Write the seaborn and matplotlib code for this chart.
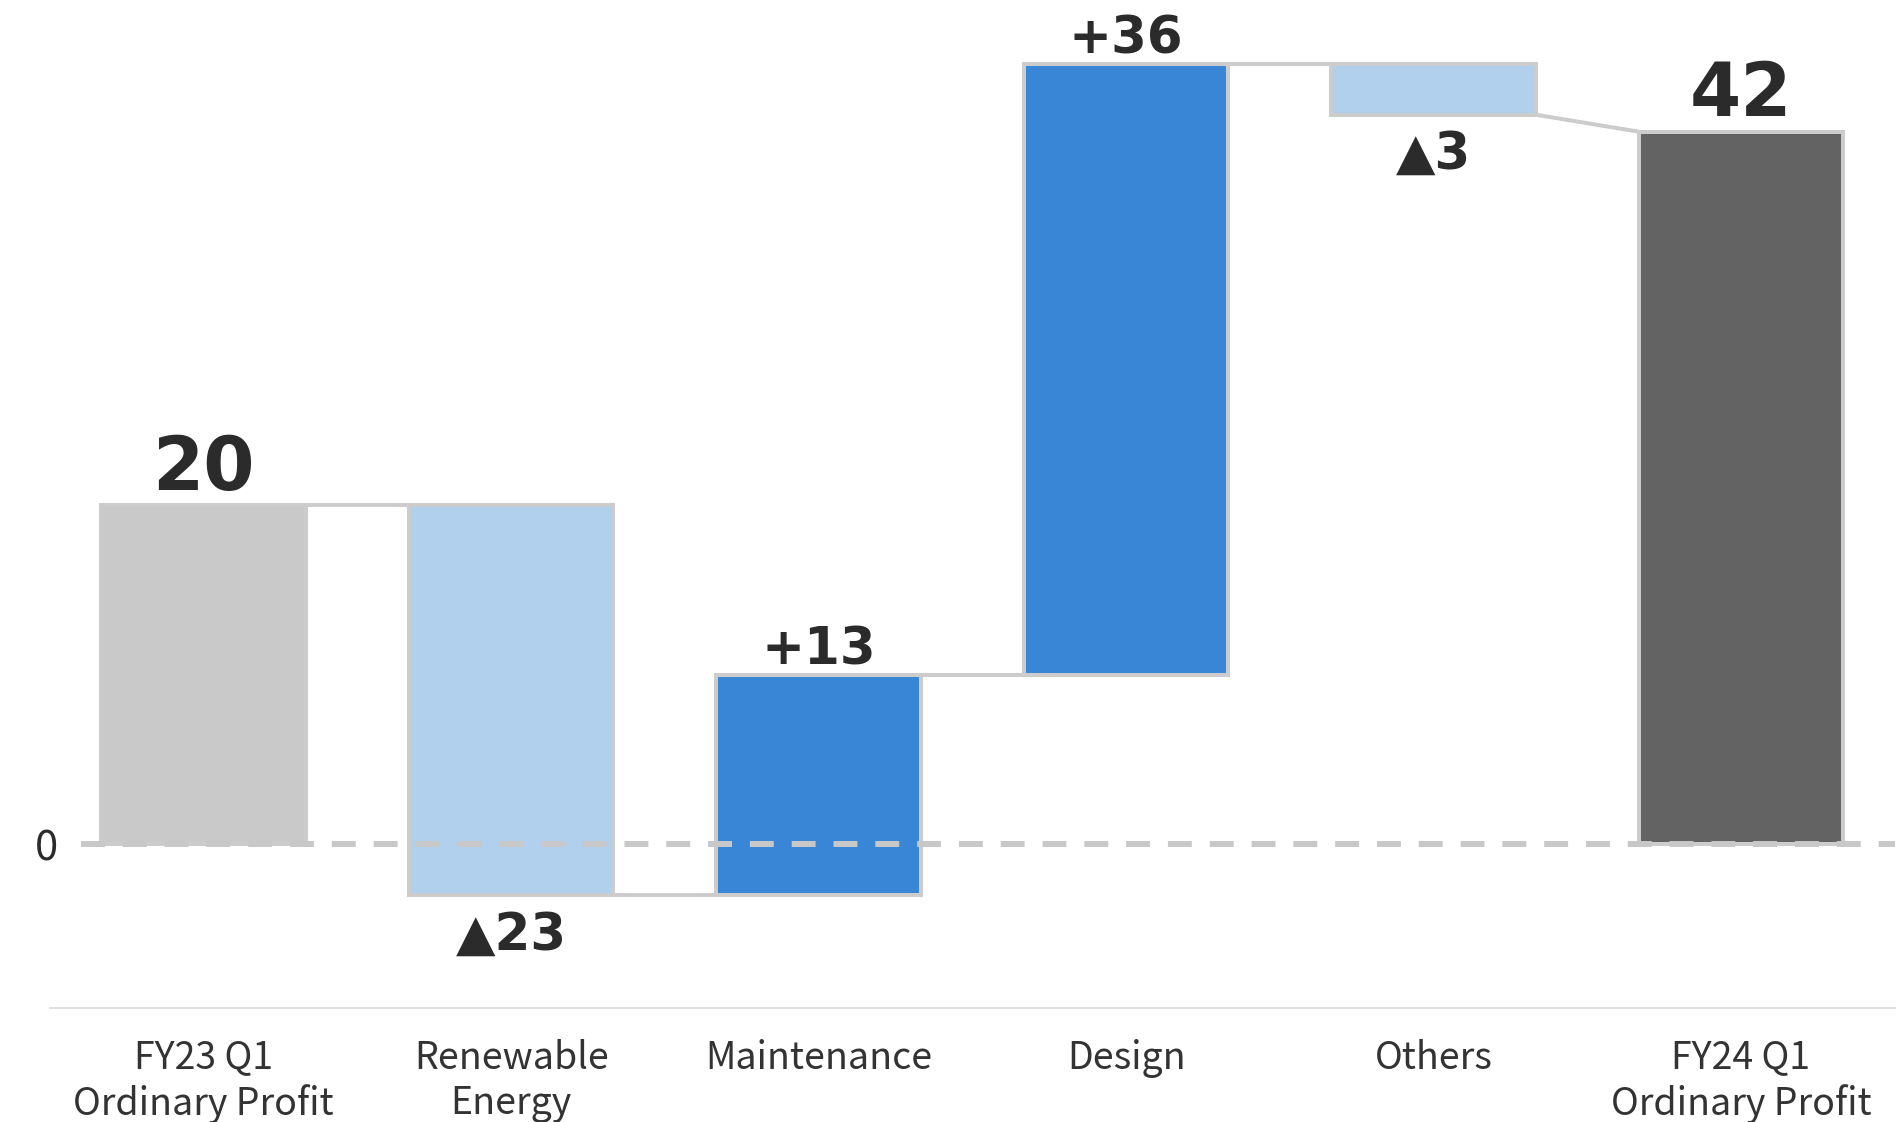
import matplotlib
matplotlib.use("Agg")
import matplotlib.pyplot as plt
import seaborn as sns

# Chart data
categories = ["FY23 Q1\nOrdinary Profit", "Renewable\nEnergy", "Maintenance", "Design", "Others", "FY24 Q1\nOrdinary Profit"]
values = [20, -23, 13, 36, -3, 42]
is_total = [True, False, False, False, False, True]
bar_colors = ["#C9C9C9", "#B0D0EE", "#3A86D6", "#3A86D6", "#B0D0EE", "#636363"]

sns.set_theme(style="white")
plt.rcParams['font.family'] = ['Noto Sans CJK JP', 'DejaVu Sans']

# Waterfall geometry: bottom and height of each bar
bottoms, heights, levels = [], [], []
running = 0
for v, tot in zip(values, is_total):
    if tot:
        bottoms.append(0)
        heights.append(v)
        running = v
    else:
        new = running + v
        bottoms.append(min(running, new))
        heights.append(abs(v))
        running = new
    levels.append(running)

fig = plt.figure(figsize=(18.98, 11.22), dpi=100)
ax = fig.add_axes([0.0263, 0.1016, 0.972, 0.8984])

bw = 0.665
sns.barplot(x=categories, y=heights, hue=categories, palette=bar_colors, width=bw,
            edgecolor="#CCCCCC", linewidth=2.9, saturation=1, legend=False, ax=ax)

for p, b, h in zip(ax.patches, bottoms, heights):
    p.set_y(b)
    p.set_height(h)

half = bw / 2
# connector lines
for i in range(len(values) - 1):
    start = levels[i]
    end = values[i + 1] if is_total[i + 1] else levels[i]
    ax.plot([i + half, i + 1 - half], [start, end], color="#CCCCCC", lw=2.9,
            solid_capstyle="butt", zorder=3)

# zero line
ax.axhline(0, xmin=0.017, xmax=1, color="#C8C8C8", lw=4.3, linestyle=(0, (4, 3)), zorder=5)

# value labels
num_font = ['DejaVu Sans']
for i, (v, tot) in enumerate(zip(values, is_total)):
    top = bottoms[i] + heights[i]
    if tot:
        ax.text(i, top + 0.9, f"{v}", ha="center", va="baseline", fontsize=53,
                fontweight="bold", color="#2B2B2B", family=num_font)
    elif v > 0:
        ax.text(i, top + 0.6, f"+{v}", ha="center", va="baseline", fontsize=37,
                fontweight="bold", color="#2B2B2B", family=num_font)
    else:
        ax.text(i, bottoms[i] - 0.9, f"▲{abs(v)}", ha="center", va="top", fontsize=37,
                fontweight="bold", color="#2B2B2B", family=num_font)

ax.set_xlim(-0.5, 5.5)
ax.set_ylim(-9.64, 49.76)
ax.set_yticks([0])
ax.set_yticklabels(["0"])
ax.tick_params(axis="y", length=0, pad=-6, labelsize=30, labelcolor="#2B2B2B")
ax.tick_params(axis="x", length=0, pad=22, labelsize=27, labelcolor="#333333")
for s in ["top", "right", "left"]:
    ax.spines[s].set_visible(False)
ax.spines["bottom"].set_color("#E0E0E0")
ax.spines["bottom"].set_linewidth(1.5)
ax.set_xlabel("")
ax.set_ylabel("")

fig.savefig("out.png", dpi=100)
